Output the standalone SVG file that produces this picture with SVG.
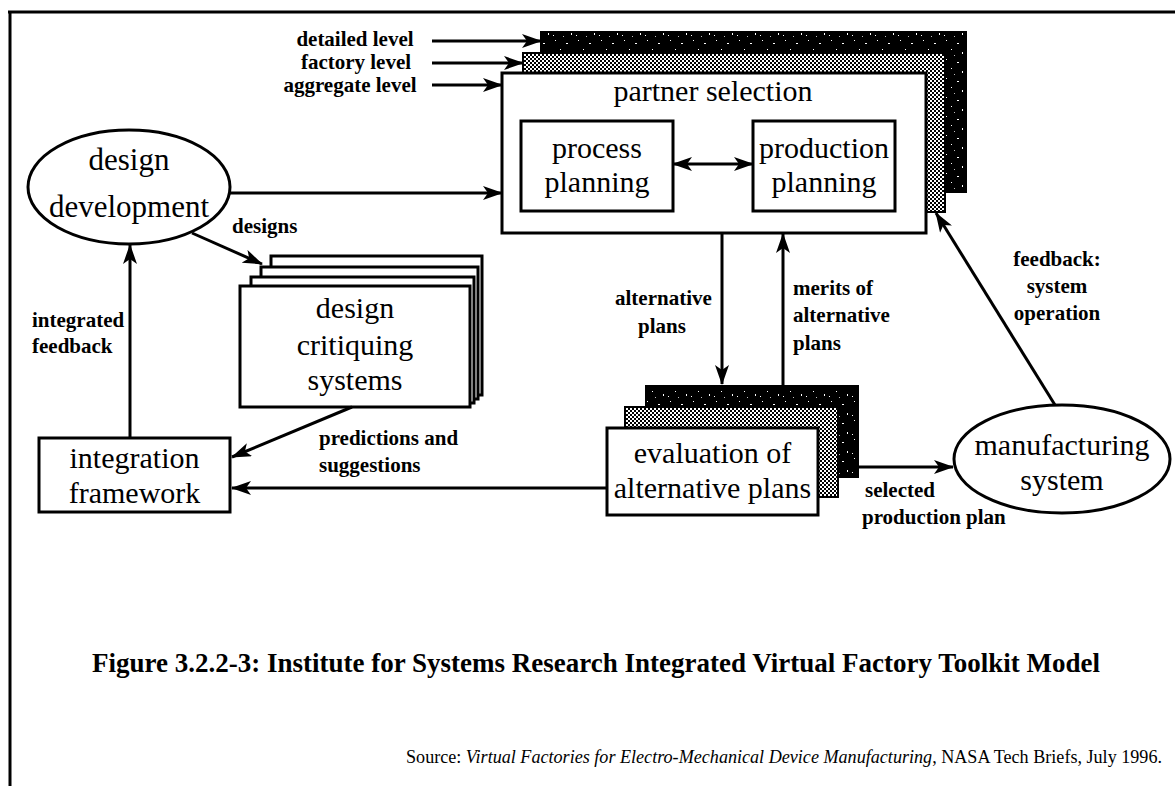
<svg xmlns="http://www.w3.org/2000/svg" width="1175" height="786" viewBox="0 0 1175 786">
  <defs>
    <style>
      .box { fill: #fff; stroke: #000; stroke-width: 3; }
      .hatch { fill: url(#checker); stroke: #000; stroke-width: 2; }
      .dark { fill: url(#speckle); stroke: #000; stroke-width: 2; }
      .edge { fill: none; stroke: #000; stroke-width: 3; marker-end: url(#ah); }
      .node { font-family: "Liberation Serif", "Times New Roman", serif; font-size: 30px; fill: #000; text-anchor: middle; }
      .lbl { font-family: "Liberation Serif", "Times New Roman", serif; font-size: 21px; font-weight: bold; fill: #000; }
      .mid { text-anchor: middle; }
    </style>
    <!-- fine 50% checker used for the middle sheet of a stack -->
    <pattern id="checker" width="4" height="4" patternUnits="userSpaceOnUse">
      <rect width="4" height="4" fill="#fff"/>
      <rect width="2" height="2" fill="#000"/>
      <rect x="2" y="2" width="2" height="2" fill="#000"/>
    </pattern>
    <!-- black sheet with sparse white specks -->
    <pattern id="speckle" width="23" height="19" patternUnits="userSpaceOnUse">
      <rect width="23" height="19" fill="#000"/>
      <rect x="3" y="2" width="1" height="1" fill="#fff"/>
      <rect x="14" y="5" width="2" height="1" fill="#fff"/>
      <rect x="8" y="11" width="1" height="1" fill="#fff"/>
      <rect x="19" y="14" width="1" height="2" fill="#fff"/>
      <rect x="1" y="16" width="1" height="1" fill="#fff"/>
      <rect x="11" y="17" width="1" height="1" fill="#bbb"/>
    </pattern>
    <marker id="ah" viewBox="0 0 20 14" refX="19" refY="7" markerWidth="20" markerHeight="14" markerUnits="userSpaceOnUse" orient="auto-start-reverse">
      <path d="M0,0 L20,7 L0,14 L5,7 z" fill="#000"/>
    </marker>
  </defs>

  <rect width="1175" height="786" fill="#fff"/>

  <!-- frame -->
  <g id="frame" stroke="#000" stroke-width="3" fill="none">
    <line x1="8" y1="12" x2="1175" y2="12"/>
    <line x1="10" y1="12" x2="10" y2="786"/>
  </g>

  <!-- level inputs -->
  <g id="level-labels" class="lbl mid">
    <text x="355" y="46">detailed level</text>
    <text x="356" y="69">factory level</text>
    <text x="350" y="92">aggregate level</text>
  </g>

  <!-- partner selection stack -->
  <g id="partner-selection">
    <rect class="dark" x="541" y="32" width="425" height="160"/>
    <rect class="hatch" x="523" y="53" width="422" height="159"/>
    <rect class="box" x="502" y="73" width="424" height="160"/>
    <text class="node" x="713" y="101">partner selection</text>
  </g>
  <g id="process-planning">
    <rect class="box" x="521" y="121" width="152" height="90"/>
    <text class="node" x="597" y="158">process</text>
    <text class="node" x="597" y="192">planning</text>
  </g>
  <g id="production-planning">
    <rect class="box" x="753" y="121" width="142" height="90"/>
    <text class="node" x="824" y="158">production</text>
    <text class="node" x="824" y="192">planning</text>
  </g>

  <!-- design development -->
  <g id="design-development">
    <ellipse cx="129" cy="187" rx="101" ry="57" fill="#fff" stroke="#000" stroke-width="3"/>
    <text class="node" x="129" y="170" style="font-size:31px">design</text>
    <text class="node" x="129" y="217" style="font-size:31px">development</text>
  </g>

  <!-- design critiquing systems stack -->
  <g id="design-critiquing">
    <rect class="box" x="271" y="256" width="211" height="139"/>
    <rect class="box" x="261" y="267" width="217" height="132"/>
    <rect class="box" x="251" y="277" width="223" height="126"/>
    <rect class="box" x="240" y="286" width="230" height="121"/>
    <text class="node" x="355" y="318">design</text>
    <text class="node" x="355" y="355">critiquing</text>
    <text class="node" x="355" y="390">systems</text>
  </g>

  <!-- integration framework -->
  <g id="integration-framework">
    <rect class="box" x="39" y="438" width="191" height="74"/>
    <text class="node" x="134.5" y="468">integration</text>
    <text class="node" x="134.5" y="503">framework</text>
  </g>

  <!-- evaluation stack -->
  <g id="evaluation">
    <rect class="dark" x="646" y="386" width="212" height="91"/>
    <rect class="hatch" x="625" y="407" width="213" height="90"/>
    <rect class="box" x="607" y="428" width="211" height="87"/>
    <text class="node" x="712.5" y="463">evaluation of</text>
    <text class="node" x="712.5" y="498">alternative plans</text>
  </g>

  <!-- manufacturing system -->
  <g id="manufacturing-system">
    <ellipse cx="1062" cy="459" rx="108" ry="54" fill="#fff" stroke="#000" stroke-width="3"/>
    <text class="node" x="1062" y="455">manufacturing</text>
    <text class="node" x="1062" y="490">system</text>
  </g>

  <!-- connectors -->
  <g id="connectors">
    <line class="edge" x1="432" y1="41" x2="541" y2="41"/>
    <line class="edge" x1="432" y1="63" x2="523" y2="63"/>
    <line class="edge" x1="432" y1="85" x2="502" y2="85"/>
    <line class="edge" x1="673" y1="164" x2="753" y2="164" style="marker-start:url(#ah)"/>
    <line class="edge" x1="230" y1="193" x2="502" y2="193"/>
    <line class="edge" x1="192" y1="233" x2="262" y2="264"/>
    <line class="edge" x1="130" y1="438" x2="130" y2="245"/>
    <line class="edge" x1="352" y1="407" x2="232" y2="457"/>
    <line class="edge" x1="607" y1="488" x2="232" y2="488"/>
    <line class="edge" x1="722" y1="233" x2="722" y2="384"/>
    <line class="edge" x1="783" y1="386" x2="783" y2="234"/>
    <line class="edge" x1="858" y1="467" x2="953" y2="467"/>
    <line class="edge" x1="1055" y1="405" x2="936" y2="213"/>
  </g>

  <!-- connector labels -->
  <g id="edge-labels" class="lbl">
    <text x="232" y="233">designs</text>
    <text x="32" y="327">integrated</text>
    <text x="32" y="353">feedback</text>
    <text x="319" y="445">predictions and</text>
    <text x="319" y="472">suggestions</text>
    <text x="615" y="305">alternative</text>
    <text x="638" y="333">plans</text>
    <text x="793" y="295">merits of</text>
    <text x="793" y="322">alternative</text>
    <text x="793" y="350">plans</text>
    <text x="1057" y="266" class="mid">feedback:</text>
    <text x="1057" y="293" class="mid">system</text>
    <text x="1057" y="320" class="mid">operation</text>
    <text x="865" y="497">selected</text>
    <text x="862" y="524">production plan</text>
  </g>

  <!-- caption and source -->
  <text id="caption" x="92" y="672" textLength="1008" lengthAdjust="spacingAndGlyphs" style="font-family:'Liberation Serif','Times New Roman',serif;font-size:27px;font-weight:bold">Figure 3.2.2-3:  Institute for Systems Research Integrated Virtual Factory Toolkit Model</text>
  <text id="source" x="406" y="763" textLength="756" lengthAdjust="spacingAndGlyphs" style="font-family:'Liberation Serif','Times New Roman',serif;font-size:19px">Source:  <tspan font-style="italic">Virtual Factories for Electro-Mechanical Device Manufacturing</tspan>, NASA Tech Briefs, July 1996.</text>
</svg>
